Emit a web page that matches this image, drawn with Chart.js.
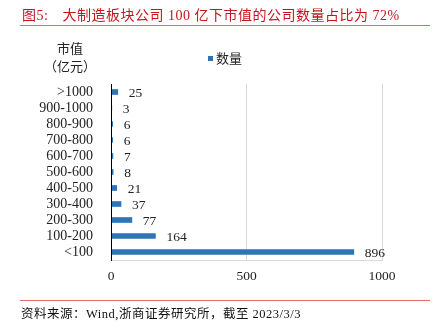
<!DOCTYPE html>
<html>
<head>
<meta charset="utf-8">
<script src="https://cdn.jsdelivr.net/npm/chart.js@4"></script>
<style>
	body { margin: 0; width: 439px; height: 331px; background: #fff; position: relative; overflow: hidden;
		font-family: "Liberation Serif", "Noto Sans CJK SC", serif; }
	.abs { position: absolute; white-space: nowrap; }
	#title { left: 22px; top: 4px; font-size: 14px; letter-spacing: 0.5px; color: #c8141e; }
	#title .lead { margin-right: 14px; }
	.rule { position: absolute; left: 20px; width: 410px; height: 1px; background: #e26a6a; }
	#source { left: 21px; top: 303px; font-size: 12.5px; letter-spacing: 0.5px; color: #111; }
	#ytitle { left: 40px; top: 40px; width: 60px; text-align: center; font-size: 13px; line-height: 18px; color: #222; }
	#legend { left: 208px; top: 48px; font-size: 13px; color: #222; }
	#legend span { display: inline-block; width: 5px; height: 5px; background: #2e75b6; margin-right: 3px; vertical-align: 2px; }
	#wrap { position: absolute; left: 0; top: 0; width: 439px; height: 331px; }
</style>
</head>
<body>
<div id="wrap"><canvas id="myChart" width="439" height="331"></canvas></div>
<div class="abs" id="title"><span class="lead">图5:</span>大制造板块公司 100 亿下市值的公司数量占比为 72%</div>
<div class="rule" style="top:25px"></div>
<div class="abs" id="ytitle">市值<br>（亿元）</div>
<div class="abs" id="legend"><span></span>数量</div>
<div class="rule" style="top:300px"></div>
<div class="abs" id="source">资料来源：Wind,浙商证券研究所，截至 2023/3/3</div>
<script>
const categories = ['>1000', '900-1000', '800-900', '700-800', '600-700', '500-600', '400-500', '300-400', '200-300', '100-200', '<100']
const counts = [25, 3, 6, 6, 7, 8, 21, 37, 77, 164, 896]
const xTicks = [0, 500, 1000]

const fontFamily = '"Liberation Serif", "Noto Sans CJK SC", serif'

// value labels to the right of each bar
const valueLabels = {
	id: 'valueLabels',
	afterDatasetsDraw(chart) {
		const c = chart.ctx
		const meta = chart.getDatasetMeta(0)
		c.save()
		c.font = '13.5px ' + fontFamily
		c.fillStyle = '#222'
		c.textBaseline = 'middle'
		meta.data.forEach((bar, i) => {
			c.fillText(String(counts[i]), bar.x + 11, bar.y + 1)
		})
		c.restore()
	}
}

const ctx = document.getElementById('myChart')
var chart = new Chart(ctx, {
	type: 'bar',
	data: {
		labels: categories,
		datasets: [{
			label: '数量',
			data: counts,
			backgroundColor: '#2e75b6',
			barThickness: 5
		}]
	},
	options: {
		indexAxis: 'y',
		responsive: false,
		animation: false,
		layout: { padding: { left: 0, right: 57, top: 84, bottom: 0 } },
		plugins: { legend: { display: false }, tooltip: { enabled: false } },
		scales: {
			x: {
				min: 0,
				max: 1000,
				afterFit(scale) { scale.height = 71 },
				afterBuildTicks(scale) { scale.ticks = xTicks.map(v => ({ value: v })) },
				grid: { color: ctx => ctx.tick && ctx.tick.value === 0 ? 'rgba(0,0,0,0)' : '#d9d9d9', drawTicks: false },
				border: { display: true, color: '#d9d9d9' },
				ticks: {
					color: '#222', padding: 8, font: { family: fontFamily, size: 13.5 },
					callback: v => String(v)
				}
			},
			y: {
				afterFit(scale) { scale.width = 111 },
				grid: { display: false },
				border: { display: true, color: '#000', width: 1, z: 1 },
				ticks: { color: '#222', padding: 10, autoSkip: false, font: { family: fontFamily, size: 14 } }
			}
		}
	},
	plugins: [valueLabels]
})
</script>
</body>
</html>
